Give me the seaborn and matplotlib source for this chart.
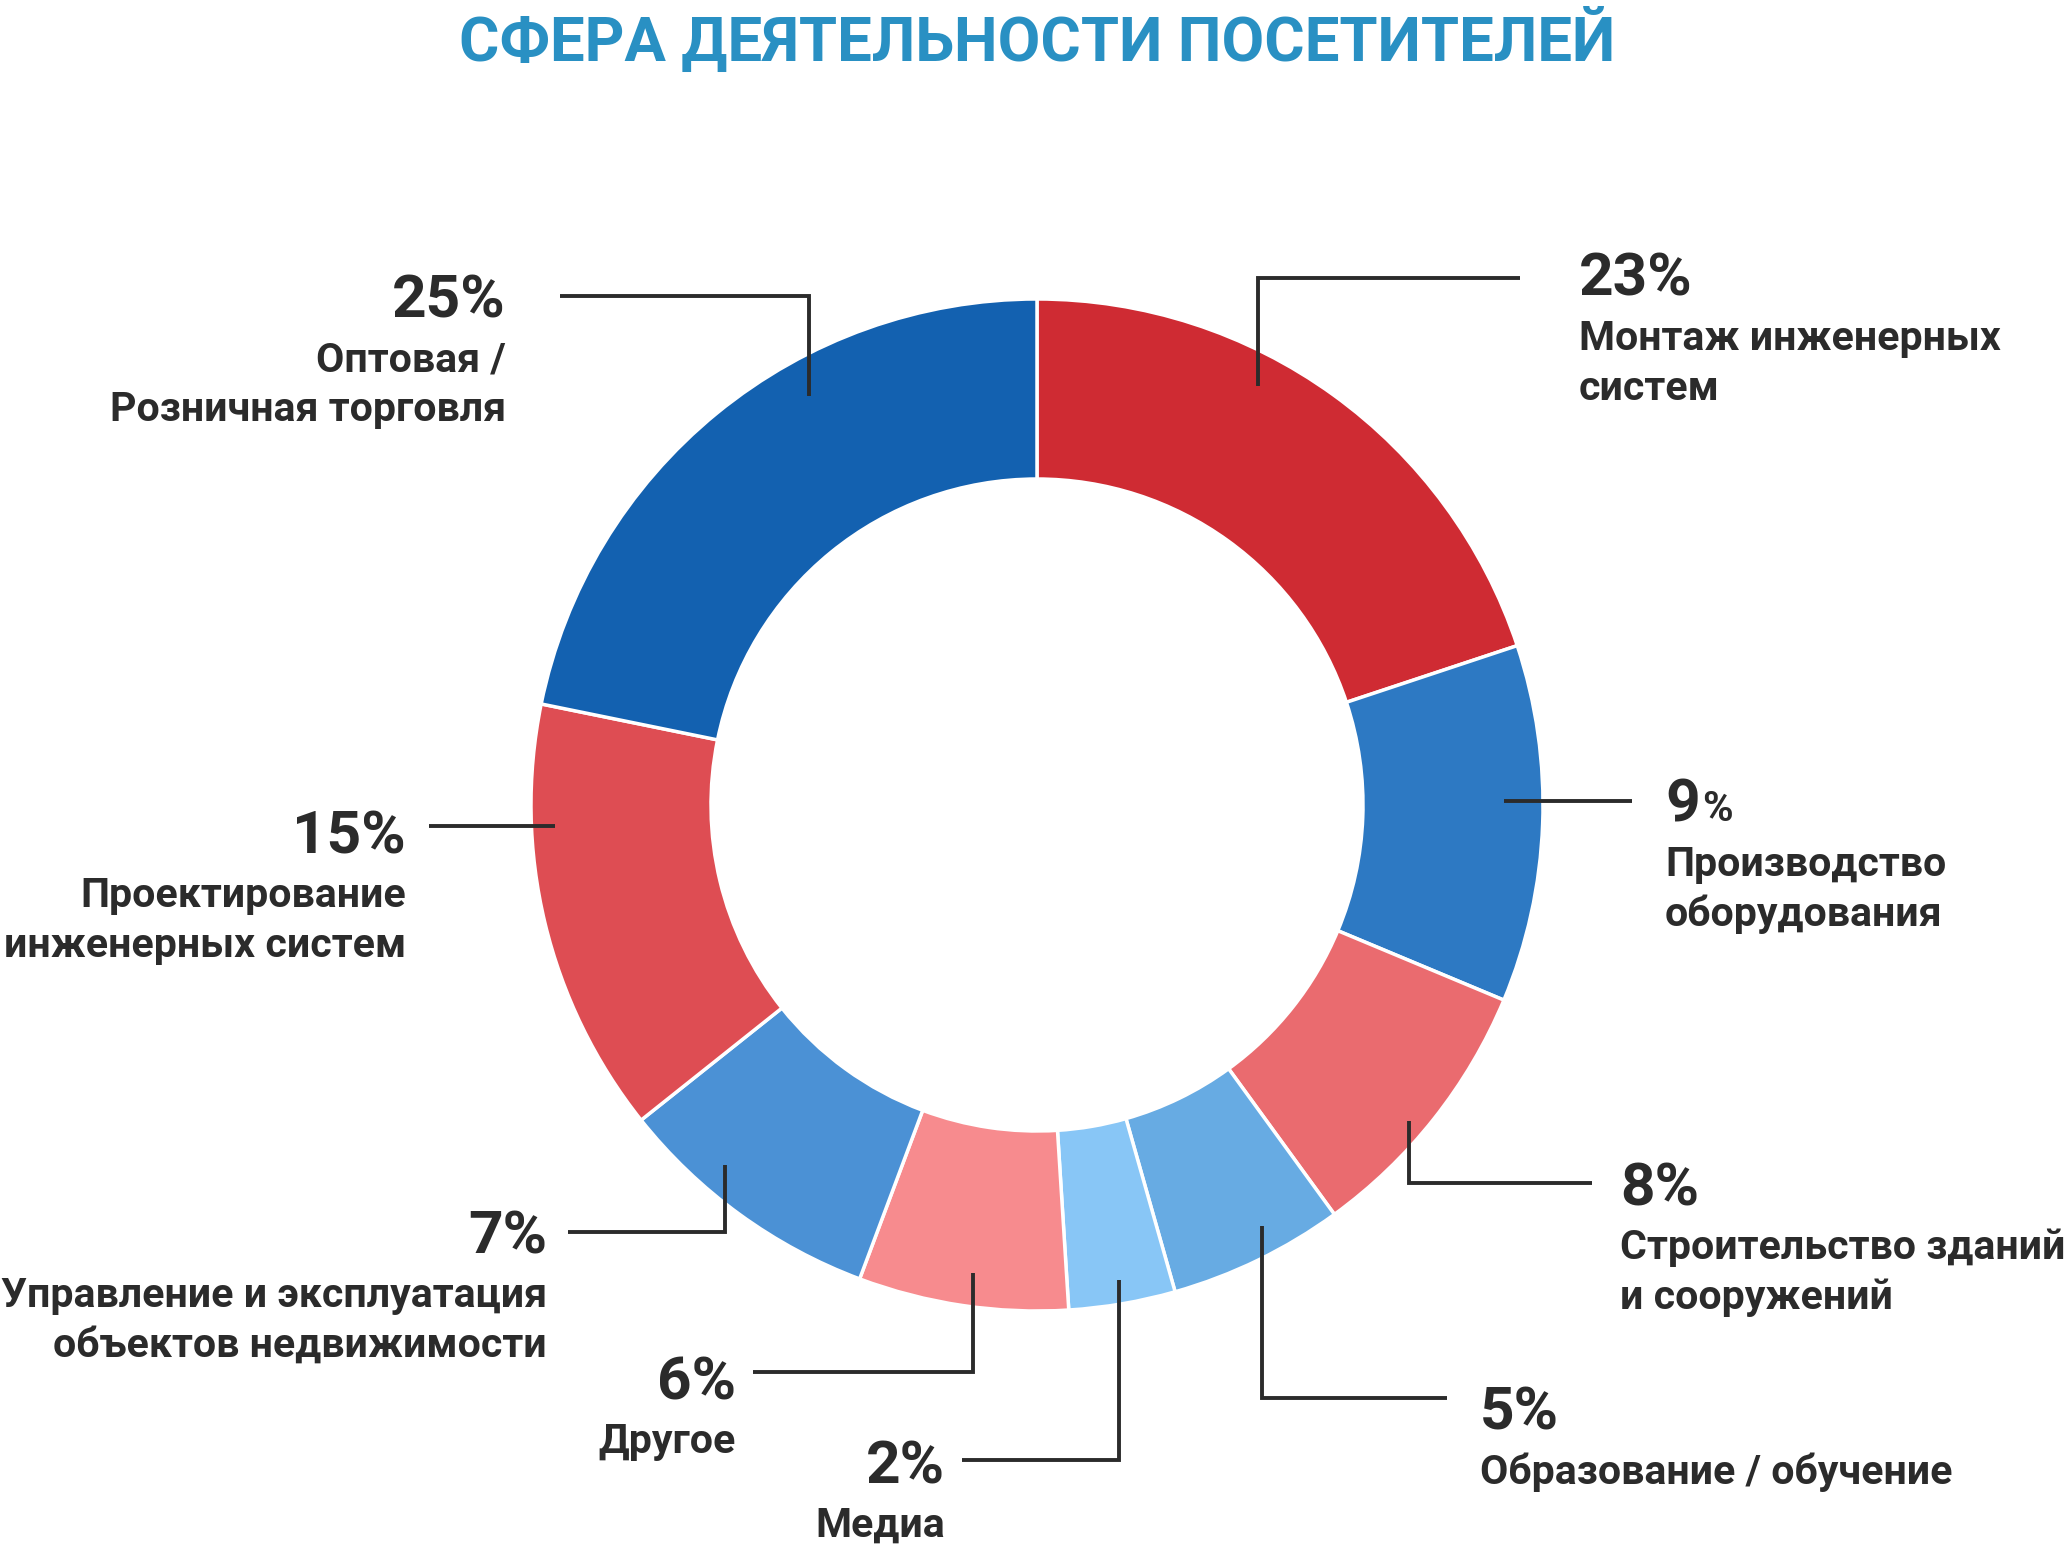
import matplotlib
matplotlib.use("Agg")
import matplotlib.pyplot as plt
import seaborn as sns

# wedge shares as drawn (read from the ring), clockwise from the top
sectors = ["Монтаж инженерных\nсистем",
           "Производство\nоборудования",
           "Строительство зданий\nи сооружений",
           "Образование / обучение",
           "Медиа",
           "Другое",
           "Управление и эксплуатация\nобъектов недвижимости",
           "Проектирование\nинженерных систем",
           "Оптовая /\nРозничная торговля"]
shares = [19.9, 11.4, 8.7, 5.6, 3.4, 6.7, 8.6, 13.9, 21.8]
pct_values = ["23", "9", "8", "5", "2", "6", "7", "15", "25"]
colors = ["#CF2B33", "#2D79C3", "#EA6B6F", "#67ABE3", "#88C6F6",
          "#F78B8E", "#4B91D5", "#DE4D53", "#1361B0"]

W, H = 2072, 1544
CX, CY = 1037, 805
R_OUT, R_IN = 506, 326
INK = "#2B2B2B"

# label blocks: x, y of the percent text (cap centre, image px), alignment
label_pos = [(1579, 275, "left"), (1665, 801, "left"), (1620, 1184, "left"),
             (1480, 1409, "left"), (945, 1462, "right"), (736, 1378, "right"),
             (547, 1232, "right"), (406, 832, "right"), (506, 296, "right")]

# leader polylines in image px
leaders = [[(1258, 386), (1258, 278), (1520, 278)],
           [(1504, 801), (1632, 801)],
           [(1409, 1121), (1409, 1183), (1592, 1183)],
           [(1262, 1226), (1262, 1398), (1447, 1398)],
           [(1119, 1280), (1119, 1460), (962, 1460)],
           [(973, 1273), (973, 1372), (753, 1372)],
           [(725, 1165), (725, 1232), (568, 1232)],
           [(555, 826), (429, 826)],
           [(809, 396), (809, 296), (560, 296)]]

sns.set_theme(style="white")
plt.rcParams["font.family"] = ["Roboto", "DejaVu Sans"]

fig = plt.figure(figsize=(W / 100, H / 100), dpi=100)
ax = fig.add_axes([0, 0, 1, 1])

palette = sns.color_palette(colors)
ax.pie(shares, colors=palette, startangle=90, counterclock=False,
       radius=R_OUT, center=(CX, H - CY),
       wedgeprops=dict(width=R_OUT - R_IN, edgecolor="white", linewidth=2.5))

for pts in leaders:
    xs = [p[0] for p in pts]
    ys = [H - p[1] for p in pts]
    ax.plot(xs, ys, color=INK, lw=2.8, solid_joinstyle="miter",
            solid_capstyle="butt")

for (x, y, ha), val, name in zip(label_pos, pct_values, sectors):
    if val == "9":
        # this one has a smaller percent sign in the original
        t = ax.text(x, H - (y + 21), val, ha=ha, va="baseline",
                    fontsize=43.5, fontweight="bold", color=INK)
        ax.annotate("%", xy=(1, 0), xycoords=t, xytext=(2, 3),
                    textcoords="offset points", ha="left", va="bottom",
                    fontsize=30, fontweight="bold", color=INK)
    else:
        ax.text(x, H - (y + 21), val + "%", ha=ha, va="baseline",
                fontsize=43.5, fontweight="bold", color=INK)
    for i, line in enumerate(name.split("\n")):
        ax.text(x, H - (y + 61 + 14 + 50 * i), line, ha=ha, va="baseline",
                fontsize=29.6, fontweight="bold", color=INK)

ax.text(CX, H - 61, "СФЕРА ДЕЯТЕЛЬНОСТИ ПОСЕТИТЕЛЕЙ", ha="center",
        va="baseline", fontsize=44.5, fontweight="bold", color="#2990C3")

ax.set_xlim(0, W)
ax.set_ylim(0, H)
ax.set_aspect("equal")
ax.axis("off")

fig.savefig("out.png", dpi=100, facecolor="white")
